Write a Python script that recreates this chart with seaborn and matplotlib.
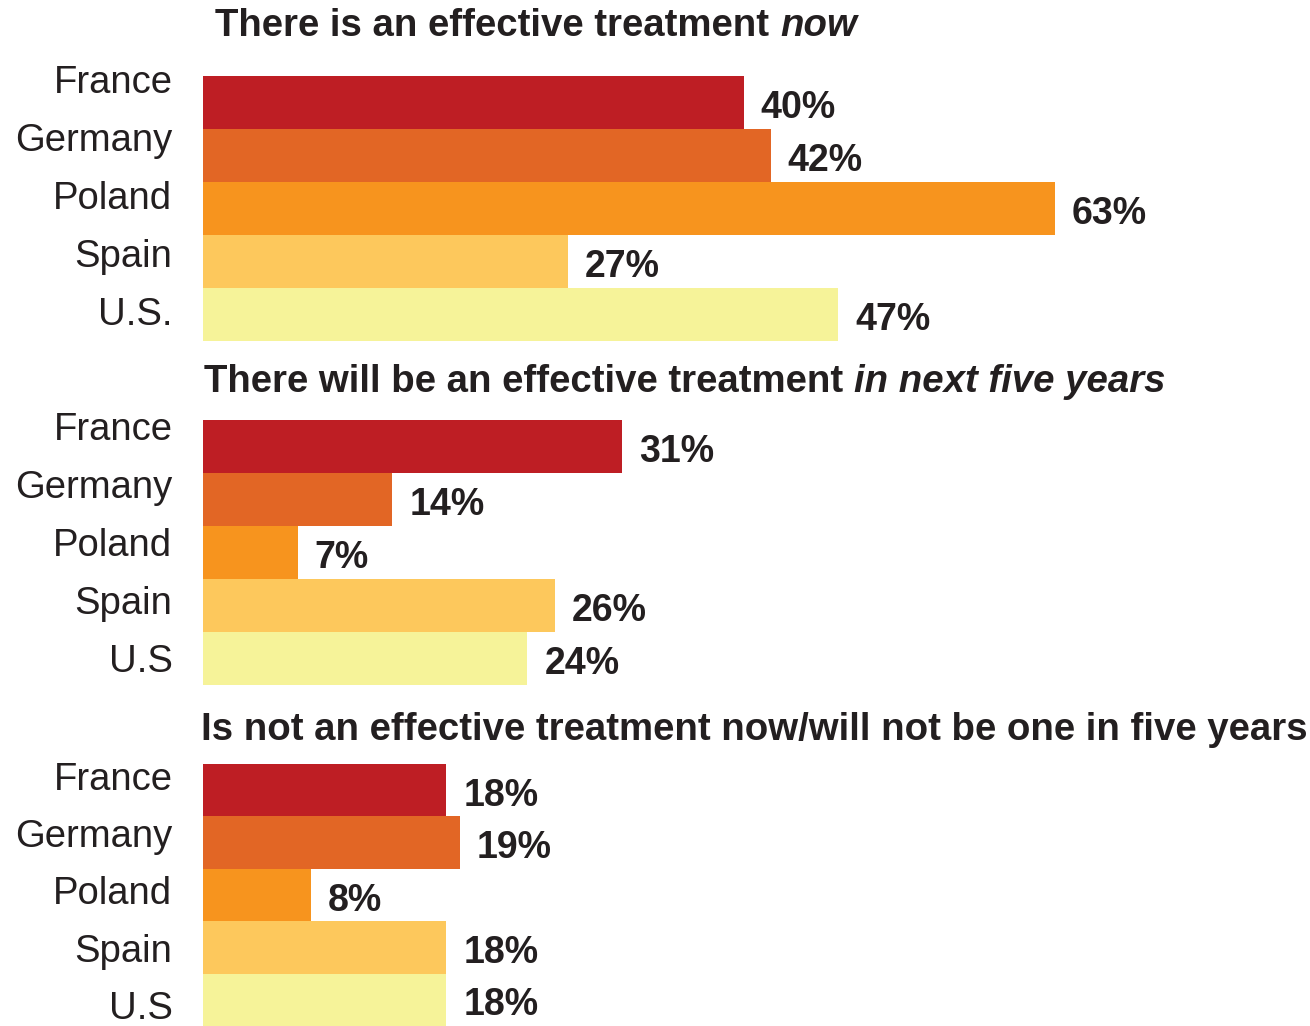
import matplotlib
matplotlib.use("Agg")
import matplotlib.pyplot as plt
import seaborn as sns
import pandas as pd

# Survey data
countries_now = ["France", "Germany", "Poland", "Spain", "U.S."]
countries_later = ["France", "Germany", "Poland", "Spain", "U.S"]
values_now = [40, 42, 63, 27, 47]
values_five_years = [31, 14, 7, 26, 24]
values_never = [18, 19, 8, 18, 18]

titles_plain = [
    "There is an effective treatment",
    "There will be an effective treatment",
    "Is not an effective treatment now/will not be one in five years",
]
titles_italic = ["now", "in next five years", ""]

bar_colors = ["#BE1E24", "#E26625", "#F7941E", "#FDC85C", "#F6F399"]
text_color = "#231F20"

sns.set_theme(style="white")
plt.rcParams["font.family"] = ["Liberation Sans", "DejaVu Sans"]

W, H = 1310, 1026
fig = plt.figure(figsize=(W / 100, H / 100), dpi=100)

# panel layout in pixels (top, bottom) and title placement
panel_px = [(76, 341), (420, 685), (764, 1026)]
title_px = [(215, 36), (204, 392), (201, 740)]
label_shift = [-0.45, -0.39, -0.28]
x_left, x_max, px_per_unit = 203, 80, 13.52
title_size = 27.6

panels = [
    (countries_now, values_now),
    (countries_later, values_five_years),
    (countries_later, values_never),
]

for k, (cats, vals) in enumerate(panels):
    top, bot = panel_px[k]
    ax = fig.add_axes([x_left / W, 1 - bot / H,
                       x_max * px_per_unit / W, (bot - top) / H])
    df = pd.DataFrame({"country": cats, "value": vals})
    sns.barplot(data=df, x="value", y="country", hue="country",
                palette=bar_colors, orient="h", width=1.0, saturation=1,
                linewidth=0, legend=False, ax=ax)
    ax.set_xlim(0, x_max)
    ax.set_ylim(len(cats) - 0.5, -0.5)
    ax.set_xlabel("")
    ax.set_ylabel("")
    ax.set_xticks([])
    ticks = [i * 1.094 + label_shift[k] for i in range(len(cats))]
    ax.set_yticks(ticks, labels=cats)
    ax.tick_params(axis="y", length=0, pad=22, labelsize=27.5,
                   labelcolor=text_color)
    for s in ax.spines.values():
        s.set_visible(False)
    ax.patch.set_alpha(0)
    for i, v in enumerate(vals):
        ax.text(v + 17 / px_per_unit, i + 0.03, f"{v}%", ha="left",
                va="center_baseline", fontsize=27, fontweight="bold",
                color=text_color)

    tx, ty = title_px[k]
    t = fig.text(tx / W, 1 - ty / H, titles_plain[k], ha="left",
                 va="baseline", fontsize=title_size, fontweight="bold",
                 color=text_color)
    if titles_italic[k]:
        fig.add_artist(plt.Annotation(
            titles_italic[k], xy=(1, 0), xycoords=t, xytext=(11, 0),
            textcoords="offset pixels", ha="left", va="bottom",
            fontsize=title_size, fontweight="bold", fontstyle="italic",
            color=text_color))

fig.savefig("out.png", dpi=100, facecolor="white")
